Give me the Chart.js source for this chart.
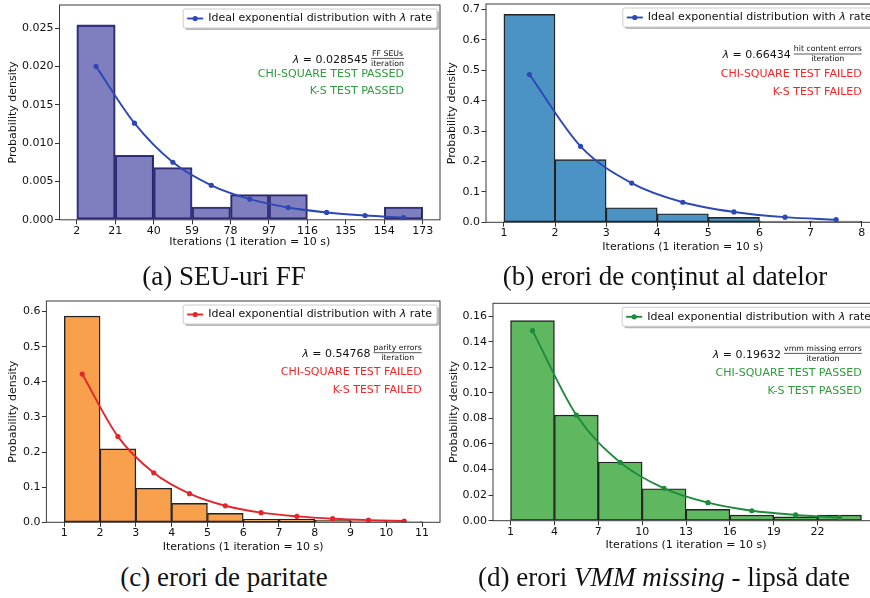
<!DOCTYPE html>
<html>
<head>
<meta charset="utf-8">
<script src="https://cdn.jsdelivr.net/npm/chart.js@4.4.1/dist/chart.umd.min.js"></script>
<style>
html, body { margin: 0; padding: 0; width: 870px; height: 598px; overflow: hidden; background: #fff; }
canvas { position: absolute; }
.cap { position: absolute; font-family: "Liberation Serif", serif; font-size: 27px; line-height: 27px; white-space: nowrap; color: #111; transform: translateX(-50%); }
</style>
</head>
<body>
<canvas id="chartA" width="450" height="255" style="left:0px;top:0px"></canvas>
<canvas id="chartB" width="450" height="255" style="left:438px;top:0px"></canvas>
<canvas id="chartC" width="450" height="270" style="left:0px;top:290px"></canvas>
<canvas id="chartD" width="450" height="270" style="left:438px;top:290px"></canvas>
<div class="cap" style="left:224px;top:263px">(a) SEU-uri FF</div>
<div class="cap" style="left:665px;top:263px">(b) erori de conținut al datelor</div>
<div class="cap" style="left:224px;top:564px">(c) erori de paritate</div>
<div class="cap" style="left:664px;top:564px">(d) erori <i>VMM missing</i> - lipsă date</div>
<script>
// (a) SEU-uri FF
var aBins = [2, 21, 40, 59, 78, 97, 116, 135, 154, 173];
var aDensity = [0.0254, 0.0084, 0.0068, 0.00165, 0.0033, 0.0033, 0, 0, 0.00165];
var aIdeal = [0.0200, 0.0126, 0.0075, 0.0045, 0.0027, 0.0016, 0.00096, 0.00056, 0.0003];
var aXTicks = [2, 21, 40, 59, 78, 97, 116, 135, 154, 173];
var aYTicks = [0, 0.005, 0.010, 0.015, 0.020, 0.025];

// (b) erori de continut
var bBins = [1, 2, 3, 4, 5, 6, 7, 8];
var bDensity = [0.684, 0.206, 0.048, 0.028, 0.016, 0.004, 0.004];
var bIdeal = [0.486, 0.250, 0.129, 0.066, 0.034, 0.017, 0.0085];
var bXTicks = [1, 2, 3, 4, 5, 6, 7, 8];
var bYTicks = [0, 0.1, 0.2, 0.3, 0.4, 0.5, 0.6, 0.7];

// (c) erori de paritate
var cBins = [1, 2, 3, 4, 5, 6, 7, 8, 9, 10, 11];
var cDensity = [0.587, 0.209, 0.097, 0.054, 0.0256, 0.0085, 0.0094, 0.0057, 0.0038, 0.002];
var cIdeal = [0.422, 0.244, 0.141, 0.0815, 0.047, 0.0274, 0.017, 0.0103, 0.0062, 0.0036];
var cXTicks = [1, 2, 3, 4, 5, 6, 7, 8, 9, 10, 11];
var cYTicks = [0, 0.1, 0.2, 0.3, 0.4, 0.5, 0.6];

// (d) erori VMM missing
var dBins = [1, 4, 7, 10, 13, 16, 19, 22, 25];
var dDensity = [0.1564, 0.0826, 0.0459, 0.025, 0.0089, 0.0044, 0.003, 0.0044];
var dIdeal = [0.1486, 0.0826, 0.0456, 0.0253, 0.0141, 0.0078, 0.0045, 0.0024];
var dXTicks = [1, 4, 7, 10, 13, 16, 19, 22];
var dYTicks = [0, 0.02, 0.04, 0.06, 0.08, 0.10, 0.12, 0.14, 0.16];

var GREEN = '#2e9b3c';
var RED = '#f5262a';

Chart.defaults.font.family = '"DejaVu Sans", sans-serif';
Chart.defaults.font.size = 11;
Chart.defaults.color = '#111';

function centers(edges) {
    var c = [];
    for (var i = 0; i < edges.length - 1; i++) {
        c.push((edges[i] + edges[i + 1]) / 2);
    }
    return c;
}

function points(xs, ys) {
    return ys.map(function (y, i) { return { x: xs[i], y: y }; });
}

function roundBox(ctx, x, y, w, h, r) {
    ctx.beginPath();
    ctx.moveTo(x + r, y);
    ctx.lineTo(x + w - r, y);
    ctx.arcTo(x + w, y, x + w, y + r, r);
    ctx.lineTo(x + w, y + h - r);
    ctx.arcTo(x + w, y + h, x + w - r, y + h, r);
    ctx.lineTo(x + r, y + h);
    ctx.arcTo(x, y + h, x, y + h - r, r);
    ctx.lineTo(x, y + r);
    ctx.arcTo(x, y, x + r, y, r);
    ctx.closePath();
}

// frame, legend box and the lambda / test annotations
var panelDecor = {
    id: 'panelDecor',
    afterDatasetsDraw: function (chart, args, opts) {
        var ctx = chart.ctx;
        var a = chart.chartArea;
        var font = '11px "DejaVu Sans"';
        var ifont = 'oblique 11px "DejaVu Sans"';
        ctx.save();

        ctx.strokeStyle = '#3a3a3a';
        ctx.lineWidth = 1;
        ctx.strokeRect(a.left, a.top, a.right - a.left, a.bottom - a.top);

        // legend
        var t1 = 'Ideal exponential distribution with ', t2 = '\u03bb', t3 = ' rate';
        ctx.font = font;
        var w1 = ctx.measureText(t1).width, w3 = ctx.measureText(t3).width;
        ctx.font = ifont;
        var w2 = ctx.measureText(t2).width;
        var boxR = a.right - 3, boxT = a.top + 4, boxH = 19;
        var boxL = boxR - 5 - (w1 + w2 + w3) - 25;
        var cy = boxT + boxH / 2;
        ctx.fillStyle = 'rgba(0,0,0,0.28)';
        roundBox(ctx, boxL + 2, boxT + 2, boxR - boxL, boxH, 2);
        ctx.fill();
        ctx.fillStyle = '#fff';
        roundBox(ctx, boxL, boxT, boxR - boxL, boxH, 2);
        ctx.fill();
        ctx.strokeStyle = '#cccccc';
        ctx.stroke();
        ctx.strokeStyle = opts.lineColor;
        ctx.lineWidth = 1.9;
        ctx.beginPath();
        ctx.moveTo(boxL + 4, cy);
        ctx.lineTo(boxL + 20, cy);
        ctx.stroke();
        ctx.fillStyle = opts.lineColor;
        ctx.beginPath();
        ctx.arc(boxL + 12, cy, 2.6, 0, Math.PI * 2);
        ctx.fill();
        ctx.fillStyle = '#111';
        ctx.textBaseline = 'middle';
        ctx.textAlign = 'left';
        var tx = boxL + 25;
        ctx.font = font;
        ctx.fillText(t1, tx, cy);
        ctx.font = ifont;
        ctx.fillText(t2, tx + w1, cy);
        ctx.font = font;
        ctx.fillText(t3, tx + w1 + w2, cy);

        // lambda with the unit fraction
        var right = a.right - opts.annoRight;
        var y0 = a.top + opts.annoY[0];
        ctx.font = '7.8px "DejaVu Sans"';
        var fw = Math.max(ctx.measureText(opts.num).width, ctx.measureText(opts.den).width);
        var fc = right - fw / 2;
        ctx.textAlign = 'center';
        ctx.fillText(opts.num, fc, y0 - 6.5);
        ctx.fillText(opts.den, fc, y0 + 3.8);
        ctx.strokeStyle = '#111';
        ctx.lineWidth = 0.7;
        ctx.beginPath();
        ctx.moveTo(right - fw, y0 - 1.6);
        ctx.lineTo(right, y0 - 1.6);
        ctx.stroke();
        ctx.textAlign = 'right';
        ctx.font = font;
        var main = ' = ' + opts.lambda;
        var mx = right - fw - 3;
        ctx.fillText(main, mx, y0);
        var mw = ctx.measureText(main).width;
        ctx.font = ifont;
        ctx.fillText('\u03bb', mx - mw, y0);

        // test results
        ctx.font = font;
        ctx.fillStyle = opts.statusColor;
        ctx.fillText('CHI-SQUARE TEST ' + opts.status, right, a.top + opts.annoY[1]);
        ctx.fillText('K-S TEST ' + opts.status, right, a.top + opts.annoY[2]);

        ctx.restore();
    }
};

function drawPanel(id, p) {
    var mids = centers(p.bins);
    new Chart(document.getElementById(id).getContext('2d'), {
        type: 'bar',
        data: {
            datasets: [
                {
                    type: 'line',
                    data: points(mids, p.ideal),
                    borderColor: p.lineColor,
                    backgroundColor: p.lineColor,
                    borderWidth: 1.9,
                    pointRadius: 2.6,
                    pointBorderWidth: 0,
                    pointBackgroundColor: p.lineColor,
                    cubicInterpolationMode: 'monotone',
                    order: 0
                },
                {
                    type: 'bar',
                    data: points(mids, p.density),
                    backgroundColor: p.barColor,
                    borderColor: p.edgeColor,
                    borderWidth: 1.4,
                    borderSkipped: false,
                    barPercentage: 1,
                    categoryPercentage: 1,
                    order: 1
                }
            ]
        },
        options: {
            responsive: false,
            animation: false,
            layout: { padding: p.pad },
            plugins: {
                legend: { display: false },
                tooltip: { enabled: false },
                panelDecor: p.decor
            },
            scales: {
                x: {
                    type: 'linear',
                    min: p.xMin,
                    max: p.xMax,
                    offset: false,
                    grid: { offset: false, drawOnChartArea: false, tickLength: 4.5, color: '#333' },
                    border: { display: false },
                    ticks: {
                        autoSkip: false, maxRotation: 0, padding: 1, color: '#111',
                        font: { lineHeight: 1 },
                        callback: function (v) { return String(v); }
                    },
                    title: {
                        display: true, text: 'Iterations (1 iteration = 10 s)', color: '#111',
                        padding: { top: 0, bottom: p.xTitlePad }, font: { lineHeight: 1.2 }
                    },
                    afterBuildTicks: function (s) {
                        s.ticks = p.xTicks.map(function (v) { return { value: v }; });
                    },
                    afterFit: function (s) {
                        s.height = p.xHeight;
                        s.paddingLeft = 0; s.paddingRight = 0;
                    }
                },
                y: {
                    type: 'linear',
                    min: 0,
                    max: p.yMax,
                    grid: { drawOnChartArea: false, tickLength: 4.5, color: '#333' },
                    border: { display: false },
                    ticks: {
                        padding: 1.5, color: '#111',
                        font: { lineHeight: 1 },
                        callback: function (v) { return v.toFixed(p.yDecimals); }
                    },
                    title: {
                        display: true, text: 'Probability density', color: '#111',
                        padding: { top: p.yTitlePad, bottom: 0 }, font: { lineHeight: 1.2 }
                    },
                    afterBuildTicks: function (s) {
                        s.ticks = p.yTicks.map(function (v) { return { value: v }; });
                    },
                    afterFit: function (s) {
                        s.width = p.yWidth;
                        s.paddingTop = 0; s.paddingBottom = 0;
                    }
                }
            }
        },
        plugins: [panelDecor]
    });
}

drawPanel('chartA', {
    bins: aBins, density: aDensity, ideal: aIdeal, xTicks: aXTicks, yTicks: aYTicks,
    xMin: -6.55, xMax: 181.55, yMax: 0.028, yDecimals: 3,
    barColor: 'rgba(0,0,128,0.5)', edgeColor: '#34346e', lineColor: '#2d48b4',
    pad: { left: 0, top: 5, right: 10, bottom: 0 },
    yWidth: 59.5, xHeight: 35.2, yTitlePad: 6.7, xTitlePad: 6.4,
    decor: {
        lineColor: '#2d48b4', lambda: '0.028545', num: 'FF SEUs', den: 'iteration',
        status: 'PASSED', statusColor: GREEN, annoRight: 36, annoY: [55, 69, 85.7]
    }
});

drawPanel('chartB', {
    bins: bBins, density: bDensity, ideal: bIdeal, xTicks: bXTicks, yTicks: bYTicks,
    xMin: 0.65, xMax: 8.35, yMax: 0.718, yDecimals: 1,
    barColor: '#4c93c5', edgeColor: '#222', lineColor: '#2d48b4',
    pad: { left: 0, top: 1.7, right: 8.4, bottom: 0 },
    yWidth: 48, xHeight: 32.7, yTitlePad: 7.1, xTitlePad: 1.4,
    decor: {
        lineColor: '#2d48b4', lambda: '0.66434', num: 'hit content errors', den: 'iteration',
        status: 'FAILED', statusColor: RED, annoRight: 17.9, annoY: [51.6, 70, 88.3]
    }
});

drawPanel('chartC', {
    bins: cBins, density: cDensity, ideal: cIdeal, xTicks: cXTicks, yTicks: cYTicks,
    xMin: 0.5, xMax: 11.5, yMax: 0.63, yDecimals: 1,
    barColor: '#f8a04c', edgeColor: '#222', lineColor: '#e3262a',
    pad: { left: 0, top: 11, right: 10, bottom: 0 },
    yWidth: 46.4, xHeight: 37.7, yTitlePad: 6.7, xTitlePad: 6.7,
    decor: {
        lineColor: '#e3262a', lambda: '0.54768', num: 'parity errors', den: 'iteration',
        status: 'FAILED', statusColor: RED, annoRight: 18.3, annoY: [53.3, 71.3, 89]
    }
});

drawPanel('chartD', {
    bins: dBins, density: dDensity, ideal: dIdeal, xTicks: dXTicks, yTicks: dYTicks,
    xMin: -0.2, xMax: 26.2, yMax: 0.17, yDecimals: 2,
    barColor: '#5fb760', edgeColor: '#222', lineColor: '#1d8a3c',
    pad: { left: 0, top: 13.3, right: 9, bottom: 0 },
    yWidth: 55, xHeight: 39.3, yTitlePad: 9.4, xTitlePad: 8.4,
    decor: {
        lineColor: '#1d8a3c', lambda: '0.19632', num: 'vmm missing errors', den: 'iteration',
        status: 'PASSED', statusColor: GREEN, annoRight: 17.3, annoY: [51.7, 70, 87.4]
    }
});
</script>
</body>
</html>
